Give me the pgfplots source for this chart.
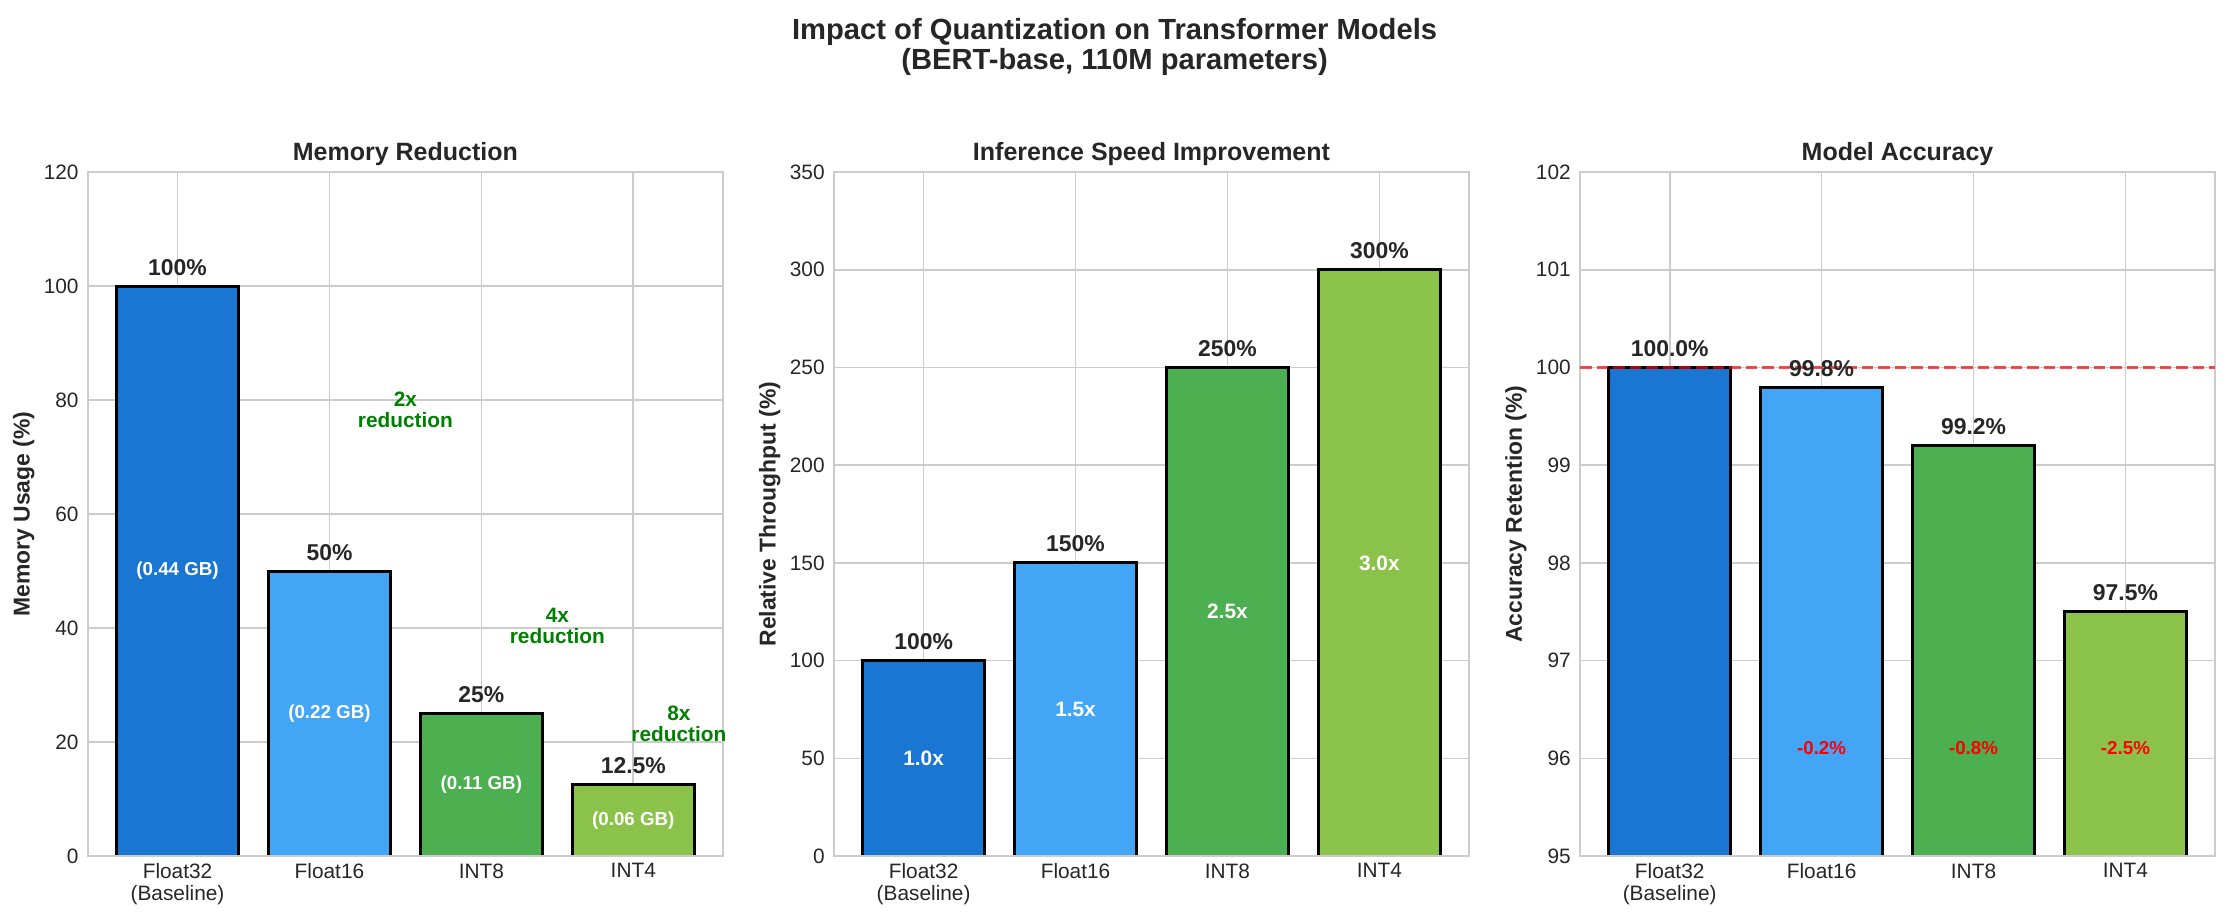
\documentclass[border=0pt]{standalone}
\usepackage{pgfplots}
\pgfplotsset{compat=1.18}
\usepackage{fontspec}
\setmainfont{Liberation Sans}

\definecolor{fpA}{HTML}{1976D2}
\definecolor{fpB}{HTML}{42A5F5}
\definecolor{intA}{HTML}{4CAF50}
\definecolor{intB}{HTML}{8BC34A}
\definecolor{txt}{HTML}{262626}
\definecolor{gridc}{HTML}{CCCCCC}
\definecolor{gain}{HTML}{008000}
\definecolor{loss}{HTML}{FF0000}

\newcommand\fs[2]{\fontsize{#1}{#2}\selectfont}

\pgfplotsset{
  panel/.style={
    scale only axis, width=304.8pt, height=328.3pt,
    anchor=south west,
    xmin=-0.59, xmax=3.59,
    xtick={0,1,2,3},
    xticklabels={{Float32\\(Baseline)},Float16,INT8,INT4},
    grid=major,
    major grid style={draw=gridc, line width=0.8pt},
    axis line style={draw=gridc, line width=0.9pt},
    major tick length=0pt,
    tick style={draw=none},
    ticklabel style={font=\fs{10}{10.7}, text=txt},
    xticklabel style={align=center, inner sep=0pt, anchor=north, yshift=-3.4pt},
    yticklabel style={inner sep=0pt, anchor=east, xshift=-4.3pt},
    /pgf/number format/assume math mode=true,
    % the default title style already lifts the title by 6pt
    title style={font=\fs{12}{14}\bfseries, text=txt, at={(0.5,1)}, anchor=base, yshift=-0.4pt, inner sep=0pt},
    ylabel style={font=\fs{11}{13}\bfseries, text=txt, at={(axis description cs:-0.101,0.5)}, anchor=center},
    ybar, bar width=0.8, bar shift=0pt,
    clip mode=individual,
  },
  mybar/.style={draw=black, line width=1.4pt, fill=#1},
}
\tikzset{
  val/.style={font=\fs{11}{13}\bfseries, text=txt, anchor=base, yshift=5.3pt, inner sep=0pt},
  inside/.style={font=\fs{#1}{#1}\bfseries, text=white, anchor=center, inner sep=0pt},
  redu/.style={align=center, font=\fs{10}{10.1}\bfseries, text=gain, anchor=south, inner sep=0pt},
  drop/.style={font=\fs{9}{9}\bfseries, text=loss, anchor=base, inner sep=0pt},
}

\begin{document}
\begin{tikzpicture}
\useasboundingbox (0,0) rectangle (1069.9pt,442.1pt);

\node[align=center, font=\fs{14}{14.4}\bfseries, text=txt, anchor=north, inner sep=0pt]
  at (535pt,433.6pt) {Impact of Quantization on Transformer Models\\(BERT-base, 110M parameters)};

% Memory footprint relative to Float32
\begin{axis}[panel, at={(42.2pt,31.2pt)},
  title={Memory Reduction}, ylabel={Memory Usage (\%)},
  ymin=0, ymax=120, ytick={0,20,...,120}]
  \addplot[mybar=fpA] coordinates {(0,100)};
  \addplot[mybar=fpB] coordinates {(1,50)};
  \addplot[mybar=intA] coordinates {(2,25)};
  \addplot[mybar=intB] coordinates {(3,12.5)};
  \draw[gridc, line width=0.9pt] (rel axis cs:0,0) -- (rel axis cs:1,0);
  \node[val] at (axis cs:0,100) {100\%};
  \node[val] at (axis cs:1,50) {50\%};
  \node[val] at (axis cs:2,25) {25\%};
  \node[val] at (axis cs:3,12.5) {12.5\%};
  \node[inside=9] at (axis cs:0,50) {(0.44 GB)};
  \node[inside=9] at (axis cs:1,25) {(0.22 GB)};
  \node[inside=9] at (axis cs:2,12.5) {(0.11 GB)};
  \node[inside=9] at (axis cs:3,6.25) {(0.06 GB)};
  \node[redu] at (axis cs:1.5,75) {2x\\reduction};
  \node[redu] at (axis cs:2.5,37.2) {4x\\reduction};
  \node[redu] at (axis cs:3.3,20) {8x\\reduction};
\end{axis}

% Throughput relative to Float32
\begin{axis}[panel, at={(400.3pt,31.2pt)},
  title={Inference Speed Improvement}, ylabel={Relative Throughput (\%)},
  ymin=0, ymax=350, ytick={0,50,...,350}]
  \addplot[mybar=fpA] coordinates {(0,100)};
  \addplot[mybar=fpB] coordinates {(1,150)};
  \addplot[mybar=intA] coordinates {(2,250)};
  \addplot[mybar=intB] coordinates {(3,300)};
  \draw[gridc, line width=0.9pt] (rel axis cs:0,0) -- (rel axis cs:1,0);
  \node[val] at (axis cs:0,100) {100\%};
  \node[val] at (axis cs:1,150) {150\%};
  \node[val] at (axis cs:2,250) {250\%};
  \node[val] at (axis cs:3,300) {300\%};
  \node[inside=10] at (axis cs:0,50) {1.0x};
  \node[inside=10] at (axis cs:1,75) {1.5x};
  \node[inside=10] at (axis cs:2,125) {2.5x};
  \node[inside=10] at (axis cs:3,150) {3.0x};
\end{axis}

% Accuracy retained after quantization
\begin{axis}[panel, at={(758.4pt,31.2pt)},
  title={Model Accuracy}, ylabel={Accuracy Retention (\%)},
  ymin=95, ymax=102, ytick={95,...,102}]
  \addplot[mybar=fpA] coordinates {(0,100)};
  \addplot[mybar=fpB] coordinates {(1,99.8)};
  \addplot[mybar=intA] coordinates {(2,99.2)};
  \addplot[mybar=intB] coordinates {(3,97.5)};
  \draw[gridc, line width=0.9pt] (rel axis cs:0,0) -- (rel axis cs:1,0);
  \addplot[sharp plot, draw=red, draw opacity=0.7, line width=1.5pt,
    dash pattern=on 5.55pt off 2.4pt] coordinates {(-0.59,100) (3.59,100)};
  \node[val] at (axis cs:0,100) {100.0\%};
  \node[val] at (axis cs:1,99.8) {99.8\%};
  \node[val] at (axis cs:2,99.2) {99.2\%};
  \node[val] at (axis cs:3,97.5) {97.5\%};
  \node[drop] at (axis cs:1,96.04) {-0.2\%};
  \node[drop] at (axis cs:2,96.04) {-0.8\%};
  \node[drop] at (axis cs:3,96.04) {-2.5\%};
\end{axis}
\end{tikzpicture}
\end{document}
